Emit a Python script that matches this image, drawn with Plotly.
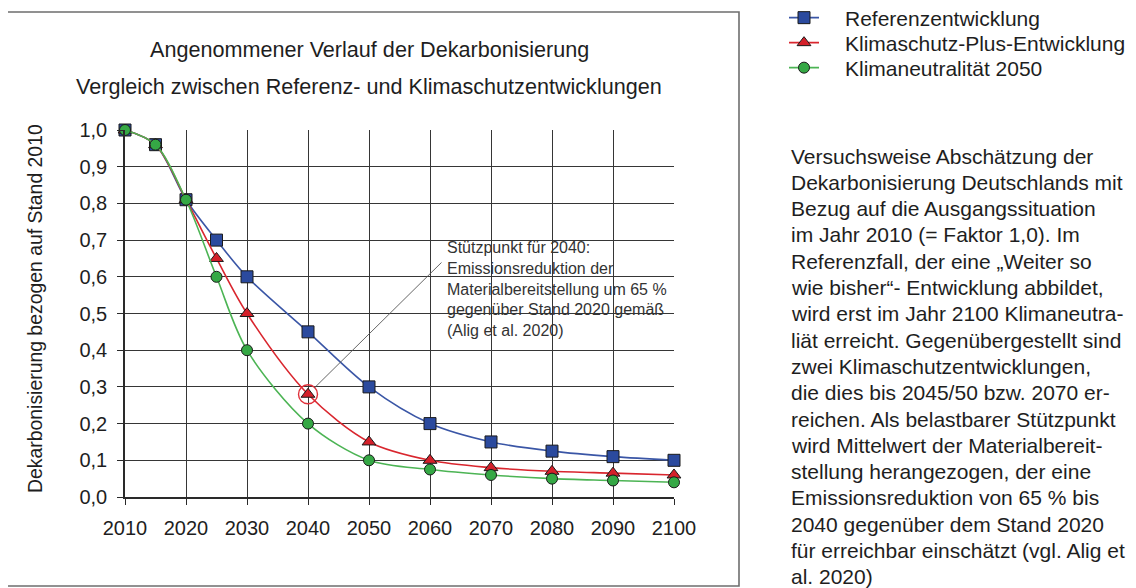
import plotly.graph_objects as go

# ---------------- data ----------------
years = [2010, 2015, 2020, 2025, 2030, 2040, 2050, 2060, 2070, 2080, 2090, 2100]
referenz = [1.0, 0.96, 0.81, 0.70, 0.60, 0.45, 0.30, 0.20, 0.15, 0.125, 0.11, 0.10]
klimaschutz_plus = [1.0, 0.96, 0.81, 0.65, 0.50, 0.28, 0.15, 0.10, 0.08, 0.07, 0.065, 0.06]
klimaneutral = [1.0, 0.96, 0.81, 0.60, 0.40, 0.20, 0.10, 0.075, 0.06, 0.05, 0.045, 0.04]

series_names = ["Referenzentwicklung", "Klimaschutz-Plus-Entwicklung", "Klimaneutralität 2050"]

x_tickvals = [2010, 2020, 2030, 2040, 2050, 2060, 2070, 2080, 2090, 2100]
x_ticktext = ["2010", "2020", "2030", "2040", "2050", "2060", "2070", "2080", "2090", "2100"]
y_tickvals = [0.0, 0.1, 0.2, 0.3, 0.4, 0.5, 0.6, 0.7, 0.8, 0.9, 1.0]
y_ticktext = ["0,0", "0,1", "0,2", "0,3", "0,4", "0,5", "0,6", "0,7", "0,8", "0,9", "1,0"]

highlight_year = [2040]
highlight_value = [0.28]

title_lines = ["Angenommener Verlauf der Dekarbonisierung",
               "Vergleich zwischen Referenz- und Klimaschutzentwicklungen"]
y_title = "Dekarbonisierung bezogen auf Stand 2010"
note_lines = ["Stützpunkt für 2040:", "Emissionsreduktion der",
              "Materialbereitstellung um 65 %", "gegenüber Stand 2020 gemäß",
              "(Alig et al. 2020)"]
side_lines = [
    "Versuchsweise Abschätzung der",
    "Dekarbonisierung Deutschlands mit",
    "Bezug auf die Ausgangssituation",
    "im Jahr 2010 (= Faktor 1,0). Im",
    "Referenzfall, der eine „Weiter so",
    "wie bisher“- Entwicklung abbildet,",
    "wird erst im Jahr 2100 Klimaneutra-",
    "liät erreicht. Gegenübergestellt sind",
    "zwei Klimaschutzentwicklungen,",
    "die dies bis 2045/50 bzw. 2070 er-",
    "reichen. Als belastbarer Stützpunkt",
    "wird Mittelwert der Materialbereit-",
    "stellung herangezogen, der eine",
    "Emissionsreduktion von 65 % bis",
    "2040 gegenüber dem Stand 2020",
    "für erreichbar einschätzt (vgl. Alig et",
    "al. 2020)",
]

# ---------------- layout helpers ----------------
OFF = 8                      # page body margin of the html page
W, H = 1136 - OFF, 588 - OFF  # figure size so that it fits the window exactly
# plot area in screen pixels
SL, SR, ST, SB = 125, 674, 130, 497
FONT = "Liberation Sans, Arial, sans-serif"
TXT = "#1e1e1e"


def px_x(p):
    return (p - SL) / (SR - SL)


def px_y(p):
    return (SB - p) / (SB - ST)


fig = go.Figure()

styles = [
    dict(line_color="#3a56a6", fill="#2b4a9e", symbol="square", size=12),
    dict(line_color="#d9262e", fill="#d4202a", symbol="triangle-up", size=12),
    dict(line_color="#4cb454", fill="#35a845", symbol="circle", size=11),
]
data = [referenz, klimaschutz_plus, klimaneutral]
legends = ["legend", "legend2", "legend3"]

for name, vals, st, lg in zip(series_names, data, styles, legends):
    fig.add_trace(go.Scatter(
        x=years, y=vals, name="\u2003" + name, mode="lines+markers",
        line=dict(color=st["line_color"], width=1.6, shape="spline", smoothing=0.9),
        marker=dict(symbol=st["symbol"], size=st["size"], color=st["fill"],
                    line=dict(color="#1a1a1a", width=1)),
        cliponaxis=False, legend=lg,
    ))

fig.add_trace(go.Scatter(
    x=highlight_year, y=highlight_value, mode="markers", showlegend=False,
    marker=dict(symbol="circle-open", size=19, color="#e0303a", line=dict(width=1.4)),
    cliponaxis=False, hoverinfo="skip",
))

annotations = []
# chart title (two lines)
for i, t in enumerate(title_lines):
    annotations.append(dict(text=t, xref="paper", yref="paper", x=px_x(369), y=px_y(50 + 37 * i),
                            xanchor="center", yanchor="middle", showarrow=False,
                            font=dict(family=FONT, size=21.6, color=TXT)))
# y-axis title
annotations.append(dict(text=y_title, xref="paper", yref="paper", x=px_x(35), y=px_y(309),
                        xanchor="center", yanchor="middle", textangle=-90, showarrow=False,
                        font=dict(family=FONT, size=19.4, color=TXT)))
# pointer line from the highlighted point to the note
annotations.append(dict(text="", x=highlight_year[0], y=highlight_value[0], xref="x", yref="y",
                        ax=2010 + px_x(443) * 90, ay=px_y(261),
                        axref="x", ayref="y", showarrow=True, arrowhead=0, arrowwidth=0.9,
                        arrowcolor="#555555", standoff=9))
# note text
annotations.append(dict(text="<br>".join(note_lines), xref="paper", yref="paper",
                        x=px_x(445), y=px_y(237), xanchor="left", yanchor="top", align="left",
                        showarrow=False, font=dict(family=FONT, size=16, color="#333333")))
# side description
for i, t in enumerate(side_lines):
    annotations.append(dict(text=t, xref="paper", yref="paper", x=px_x(789), y=px_y(156 + 26.3 * i),
                            xanchor="left", yanchor="middle", showarrow=False,
                            font=dict(family=FONT, size=21, color=TXT)))

shapes = [dict(type="rect", xref="paper", yref="paper", x0=px_x(7), x1=px_x(739),
               y0=px_y(586), y1=px_y(12), line=dict(color="#6e6e6e", width=1.6), layer="below")]

leg_common = dict(xanchor="left", yanchor="middle", bgcolor="rgba(0,0,0,0)",
                  font=dict(family=FONT, size=21, color=TXT), itemwidth=30,
                  xref="paper", yref="paper")
leg_rows = [18, 43, 68]

fig.update_layout(
    width=W, height=H,
    margin=dict(l=SL - OFF, r=W - (SR - OFF), t=ST - OFF, b=H - (SB - OFF), pad=0, autoexpand=False),
    paper_bgcolor="white", plot_bgcolor="white",
    font=dict(family=FONT, size=19, color=TXT),
    xaxis=dict(range=[2010, 2100], tickvals=x_tickvals, ticktext=x_ticktext,
               showgrid=True, gridcolor="#363636", gridwidth=1,
               showline=True, linecolor="#2a2a2a", linewidth=1.5,
               ticks="outside", ticklen=6, tickcolor="#2a2a2a", tickwidth=1.2,
               zeroline=False, ticklabelstandoff=6,
               tickfont=dict(family=FONT, size=20, color=TXT)),
    yaxis=dict(range=[0, 1], tickvals=y_tickvals, ticktext=y_ticktext,
               showgrid=True, gridcolor="#363636", gridwidth=1,
               showline=True, linecolor="#2a2a2a", linewidth=1.5,
               ticks="outside", ticklen=6, tickcolor="#2a2a2a", tickwidth=1.2,
               zeroline=False, ticklabelstandoff=6,
               tickfont=dict(family=FONT, size=20, color=TXT)),
    legend=dict(x=px_x(784), y=px_y(leg_rows[0]), **leg_common),
    legend2=dict(x=px_x(784), y=px_y(leg_rows[1]), **leg_common),
    legend3=dict(x=px_x(784), y=px_y(leg_rows[2]), **leg_common),
    annotations=annotations,
    shapes=shapes,
)

fig.write_html("out.html")
